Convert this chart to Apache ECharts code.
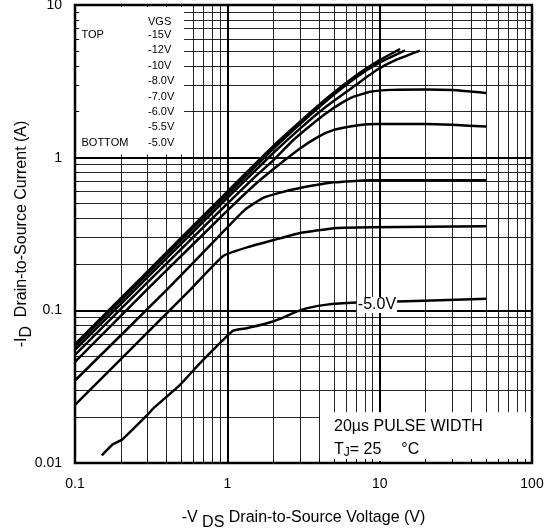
<!DOCTYPE html>
<html><head><meta charset="utf-8">
<script src="https://cdn.jsdelivr.net/npm/echarts@6.0.0/dist/echarts.min.js"></script>
<style>html,body{margin:0;padding:0;background:#fff}#c{width:547px;height:531px}</style>
</head><body><div id="c"></div>
<script>
// ---- data (VDS [V], ID [A]) ----
const vgs15 = [[0.1,0.06],[0.3,0.18],[1,0.6],[2,1.19],[3,1.72],[4.5,2.45],[7,3.45],[10,4.35],[13.6,5.15]];
const vgs12 = [[0.1,0.058],[0.3,0.174],[1,0.575],[2,1.14],[3,1.66],[4.5,2.37],[7,3.35],[10,4.2],[14.7,5.05]];
const vgs10 = [[0.1,0.055],[0.3,0.165],[1,0.545],[2,1.07],[3,1.55],[4.5,2.18],[7,3.0],[9.57,3.75],[13,4.4],[18.4,5.03]];
const vgs8  = [[0.1,0.051],[0.3,0.153],[1,0.5],[1.5,0.74],[2,0.96],[2.7,1.3],[3.5,1.62],[4.5,1.97],[5.5,2.25],[6.7,2.5],[8.7,2.7],[12,2.78],[20,2.8],[30,2.77],[50,2.65]];
const vgs7  = [[0.1,0.046],[0.3,0.138],[1,0.45],[1.5,0.66],[2,0.84],[3,1.15],[4,1.38],[5,1.52],[6.4,1.6],[8,1.65],[10,1.66],[20,1.66],[30,1.64],[50,1.6]];
const vgs6  = [[0.1,0.0347],[0.4,0.136],[0.9,0.313],[1.3,0.455],[1.72,0.545],[2.22,0.59],[3,0.632],[5,0.689],[8.65,0.71],[50,0.71]];
const vgs55 = [[0.1,0.024],[0.57,0.136],[0.94,0.227],[1.41,0.262],[2.22,0.296],[3,0.321],[5.23,0.346],[8.65,0.35],[50,0.355]];
const vgs5  = [[0.15,0.0112],[0.178,0.0133],[0.203,0.0142],[0.296,0.0205],[0.327,0.0228],[0.489,0.0325],[0.662,0.0451],[1.09,0.0735],[1.34,0.0764],[1.8,0.082],[2.22,0.088],[2.7,0.096],[3.3,0.103],[4.5,0.109],[7.07,0.1125],[10,0.1135],[50.5,0.119]];
const curves = [vgs15, vgs12, vgs10, vgs8, vgs7, vgs6, vgs55, vgs5];

const legendTitle = 'VGS';
const legendLabels = ['-15V','-12V','-10V','-8.0V','-7.0V','-6.0V','-5.5V','-5.0V'];
const curveLabel = '-5.0V';
const curveLabelAt = [9.6, 0.1135];

const minorX = [0.2,0.3,0.4,0.5,0.6,0.7,0.8,0.9,2,3,4,5,6,7,8,9,20,30,40,50,60,70,80,90];
const minorY = [0.02,0.03,0.04,0.05,0.06,0.07,0.08,0.09,0.2,0.3,0.4,0.5,0.6,0.7,0.8,0.9,2,3,4,5,6,7,8,9];
const legendBox = [[0.1035, 1.05], [0.52, 9.7]];
const pulseBox = [[4.06, 0.0103], [97, 0.0215]];

const FONT = '"Liberation Sans", Arial, sans-serif';
const chart = echarts.init(document.getElementById('c'), null, {renderer:'canvas'});
const fmt = v => String(parseFloat(Number(v).toPrecision(3)));

const series = [];
// minor grid lines
series.push({
  type:'line', data:[[1,1]], symbol:'none', lineStyle:{width:0}, z:1, silent:true,
  markLine:{
    z:1, silent:true, symbol:'none', animation:false, label:{show:false},
    lineStyle:{color:'#000', width:1, type:'solid', opacity:0.85},
    data: minorX.map(v=>({xAxis:v})).concat(minorY.map(v=>({yAxis:v})))
  }
});
// white boxes
series.push({
  type:'line', data:[[1,1]], symbol:'none', lineStyle:{width:0}, z:3, silent:true,
  markArea:{
    z:3, silent:true, animation:false,
    itemStyle:{color:'#fff', opacity:1},
    data:[
      [{xAxis:legendBox[0][0], yAxis:legendBox[0][1]},{xAxis:legendBox[1][0], yAxis:legendBox[1][1]}],
      [{xAxis:pulseBox[0][0], yAxis:pulseBox[0][1]},{xAxis:pulseBox[1][0], yAxis:pulseBox[1][1]}]
    ]
  }
});
// small inside minor ticks on the left and bottom frame (visible inside the boxes)
series.push({
  type:'line', data:[[1,1]], symbol:'none', lineStyle:{width:0}, z:4, silent:true,
  markLine:{
    z:4, silent:true, symbol:'none', animation:false, label:{show:false},
    lineStyle:{color:'#000', width:1, type:'solid'},
    data: minorX.map(v=>[{coord:[v,0.01]},{coord:[v,0.0106]}])
      .concat(minorY.map(v=>[{coord:[0.1,v]},{coord:[0.1065,v]}]))
  }
});
curves.forEach((d,i)=>{
  const s = {
    type:'line', data:d, symbol:'none', smooth:0.15, z:5,
    lineStyle:{color:'#000', width:2.5}, animation:false
  };
  if (d === vgs5) {
    s.markPoint = {
      z:10, symbol:'rect', symbolSize:0, animation:false,
      label:{show:true, formatter:curveLabel, color:'#000', fontFamily:FONT, fontSize:16,
             backgroundColor:'#fff', padding:[0,1,0,1], offset:[0,3]},
      data:[{coord:curveLabelAt}]
    };
  }
  series.push(s);
});

const legendX1 = 81.5, legendX2 = 148;
const graphic = [];
graphic.push({type:'text', x:legendX2, y:22, z:100, style:{text:legendTitle, font:'11px '+FONT, fill:'#000', verticalAlign:'middle'}});
legendLabels.forEach((t,i)=>{
  graphic.push({type:'text', x:legendX2, y:35+i*15.4, z:100, style:{text:t, font:'11px '+FONT, fill:'#000', verticalAlign:'middle'}});
});
graphic.push({type:'text', x:legendX1, y:35, z:100, style:{text:'TOP', font:'11px '+FONT, fill:'#000', verticalAlign:'middle'}});
graphic.push({type:'text', x:legendX1, y:35+7*15.4, z:100, style:{text:'BOTTOM', font:'11px '+FONT, fill:'#000', verticalAlign:'middle'}});
graphic.push({type:'text', x:334, y:427, z:100, style:{text:'20µs PULSE WIDTH', font:'16px '+FONT, fill:'#000', verticalAlign:'middle'}});
graphic.push({type:'text', x:334, y:450, z:100, style:{
  text:'{a|T}{s|J}{a|= 25}{g| }{a|°C}', fill:'#000', verticalAlign:'middle',
  rich:{a:{fontFamily:FONT, fontSize:16, color:'#000'},
        s:{fontFamily:FONT, fontSize:12, color:'#000', padding:[6,0,0,0]},
        g:{fontFamily:FONT, fontSize:16, width:20}}
}});

chart.setOption({
  animation:false,
  backgroundColor:'#fff',
  grid:{left:75, right:15, top:5, bottom:68, show:true, borderColor:'#000', borderWidth:2.5, backgroundColor:'transparent', outerBoundsMode:'none', containLabel:false},
  xAxis:{
    type:'log', logBase:10, min:0.1, max:100,
    axisLine:{show:false}, axisTick:{show:false},
    splitLine:{show:true, lineStyle:{color:'#000', width:2}},
    axisLabel:{formatter:fmt, fontFamily:FONT, fontSize:14, color:'#000', margin:14},
    name:'{a|-V }{s|DS}{a| Drain-to-Source Voltage (V)}', nameLocation:'middle', nameGap:42, nameMoveOverlap:false,
    nameTextStyle:{rich:{a:{fontFamily:FONT, fontSize:16, color:'#000'}, s:{fontFamily:FONT, fontSize:16, color:'#000', padding:[10,0,0,0]}}}
  },
  yAxis:{
    type:'log', logBase:10, min:0.01, max:10,
    axisLine:{show:false}, axisTick:{show:false},
    splitLine:{show:true, lineStyle:{color:'#000', width:2}},
    axisLabel:{formatter:fmt, fontFamily:FONT, fontSize:14, color:'#000', margin:13, padding:[6,0,0,0]},
    name:'{a|-I}{s|D}{a|  Drain-to-Source Current (A)}', nameLocation:'middle', nameGap:40, nameRotate:90, nameMoveOverlap:false,
    nameTextStyle:{rich:{a:{fontFamily:FONT, fontSize:16, color:'#000'}, s:{fontFamily:FONT, fontSize:16, color:'#000', padding:[10,0,0,0]}}}
  },
  series: series,
  graphic: graphic
});
</script>
</body></html>
